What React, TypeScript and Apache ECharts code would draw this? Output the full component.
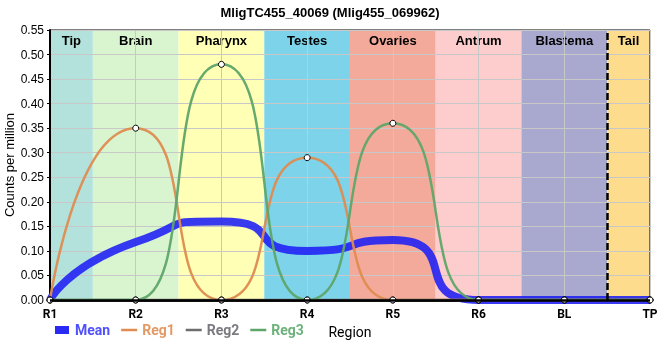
import React, { useEffect, useRef } from "react";
import * as echarts from "echarts";

// ---- data ----
const xLabels = ["R1", "R2", "R3", "R4", "R5", "R6", "BL", "TP"];
const meanValues = [0, 0.118, 0.16, 0.1, 0.122, 0, 0, 0];
const reg1Values = [0, 0.35, 0, 0.29, 0, 0, 0, 0];
const reg2Values = [0, 0, 0, 0, 0, 0, 0, 0];
const reg3Values = [0, 0, 0.48, 0, 0.36, 0, 0, 0];

const regionNames = ["Tip", "Brain", "Pharynx", "Testes", "Ovaries", "Antrum", "Blastema", "Tail"];
const regionStarts = [0, 0.5, 1.5, 2.5, 3.5, 4.5, 5.5, 6.5];
const regionEnds = [0.5, 1.5, 2.5, 3.5, 4.5, 5.5, 6.5, 7];
const regionColors = ["#b3e2dd", "#d8f5d0", "#ffffb5", "#7dd4ea", "#f4aa9b", "#fdcccc", "#a9a8cf", "#fddc8e"];
const dividerAt = 6.5;

const yMin = 0;
const yMax = 0.55;
const yStep = 0.05;

const titleText = "MligTC455_40069 (Mlig455_069962)";

const COLORS = {
  mean: "rgba(30,30,245,0.88)",
  reg1: "#de8c50",
  reg2: "#6e6e6e",
  reg3: "#5fa569",
};

const toPairs = (vals: number[]) => vals.map((v, i) => [i, v]);

const linePath = "path://M0,0L16,0L16,2.5L0,2.5Z";
const rectPath = "path://M0,0L14,0L14,8L0,8Z";

export default function App() {
  const ref = useRef<HTMLDivElement>(null);

  useEffect(() => {
    if (!ref.current) return;
    const chart = echarts.init(ref.current, undefined, { renderer: "svg" });

    const markerStyle = {
      color: "#ffffff",
      borderColor: "#000000",
      borderWidth: 1,
    };

    const regSmooth = 0.7;

    const option: any = {
      animation: false,
      title: {
        text: titleText,
        left: "center",
        top: 1,
        textStyle: {
          fontFamily: "Liberation Sans",
          fontSize: 13,
          fontWeight: "bold",
          color: "#000",
        },
      },
      grid: {
        left: 50,
        right: 10,
        top: 30,
        bottom: 60,
        show: true,
        borderColor: "#000",
        borderWidth: 1,
        z: 1,
        containLabel: false,
        outerBoundsMode: "none",
      },
      legend: {
        left: 55,
        top: 323,
        padding: 0,
        itemGap: 11,
        itemWidth: 16,
        itemHeight: 8,
        textStyle: { fontFamily: "Roboto", fontSize: 14, fontWeight: "bold" },
        data: [
          { name: "Mean", icon: rectPath, itemStyle: { color: "#2a2af5", borderWidth: 0 }, textStyle: { color: "#5050ff" } },
          { name: "Reg1", icon: linePath, itemStyle: { color: COLORS.reg1, borderWidth: 0 }, textStyle: { color: "#e49a66" } },
          { name: "Reg2", icon: linePath, itemStyle: { color: COLORS.reg2, borderWidth: 0 }, textStyle: { color: "#7a7a80" } },
          { name: "Reg3", icon: linePath, itemStyle: { color: COLORS.reg3, borderWidth: 0 }, textStyle: { color: "#6cb27a" } },
        ],
      },
      xAxis: {
        type: "value",
        min: 0,
        max: xLabels.length - 1,
        interval: 1,
        z: 1,
        name: "Region",
        nameLocation: "middle",
        nameGap: 25,
        nameTextStyle: { fontFamily: "Roboto", fontSize: 14, color: "#000" },
        axisLine: { show: true, lineStyle: { color: "#000", width: 2.5 } },
        axisTick: { show: true, length: 3, lineStyle: { color: "#000", width: 1 } },
        axisLabel: {
          margin: 8,
          fontFamily: "Roboto",
          fontWeight: "bold",
          fontSize: 12,
          color: "#000",
          formatter: (v: number) => xLabels[Math.round(v)] ?? "",
        },
        splitLine: { show: true, lineStyle: { color: "#c8c8c8", width: 1 } },
      },
      yAxis: {
        type: "value",
        min: yMin,
        max: yMax,
        interval: yStep,
        z: 1,
        name: "Counts per million",
        nameLocation: "middle",
        nameGap: 34,
        nameMoveOverlap: false,
        nameTextStyle: { fontFamily: "Liberation Sans", fontSize: 13, color: "#000" },
        axisLine: { show: true, lineStyle: { color: "#000", width: 2 } },
        axisTick: { show: true, length: 3, lineStyle: { color: "#000", width: 1 } },
        axisLabel: {
          margin: 6,
          fontFamily: "Liberation Sans",
          fontSize: 12,
          color: "#000",
          formatter: (v: number) => v.toFixed(2),
        },
        splitLine: { show: true, lineStyle: { color: "#c8c8c8", width: 1 } },
      },
      series: [
        {
          name: "Mean",
          type: "line",
          data: toPairs(meanValues),
          smooth: 0.75,
          showSymbol: false,
          symbol: "none",
          lineStyle: { color: COLORS.mean, width: 8 },
          itemStyle: { color: COLORS.mean },
          z: 2,
        },
        {
          name: "Reg1",
          type: "line",
          data: toPairs(reg1Values),
          smooth: regSmooth,
          smoothMonotone: "x",
          symbol: "circle",
          symbolSize: 6,
          showSymbol: true,
          lineStyle: { color: COLORS.reg1, width: 2.5, opacity: 0.95 },
          itemStyle: markerStyle,
          z: 3,
        },
        {
          name: "Reg2",
          type: "line",
          data: toPairs(reg2Values),
          smooth: regSmooth,
          smoothMonotone: "x",
          symbol: "circle",
          symbolSize: 6,
          showSymbol: true,
          lineStyle: { color: COLORS.reg2, width: 2.5 },
          itemStyle: markerStyle,
          z: 3,
          markArea: {
            silent: true,
            z: 0,
            label: {
              show: true,
              position: "insideTop",
              distance: 4,
              fontFamily: "Liberation Sans",
              fontWeight: "bold",
              fontSize: 13,
              color: "#000",
            },
            data: regionNames.map((n, i) => [
              { name: n, xAxis: regionStarts[i], itemStyle: { color: regionColors[i], opacity: 1 } },
              { xAxis: regionEnds[i] },
            ]),
          },
          markLine: {
            silent: true,
            symbol: ["none", "none"],
            label: { show: false },
            data: [
              { xAxis: dividerAt, lineStyle: { color: "#000", width: 2.5, type: [7, 3] } },
              { yAxis: 0, lineStyle: { color: "#000", width: 2.5, type: "solid" } },
            ],
          },
        },
        {
          name: "Reg3",
          type: "line",
          data: toPairs(reg3Values),
          smooth: regSmooth,
          smoothMonotone: "x",
          symbol: "circle",
          symbolSize: 6,
          showSymbol: true,
          lineStyle: { color: COLORS.reg3, width: 2.5, opacity: 0.95 },
          itemStyle: markerStyle,
          z: 3,
        },
      ],
    };

    chart.setOption(option);
    return () => chart.dispose();
  }, []);

  return (
    <div
      ref={ref}
      style={{ position: "fixed", left: 0, top: 0, width: 660, height: 360 }}
    />
  );
}
